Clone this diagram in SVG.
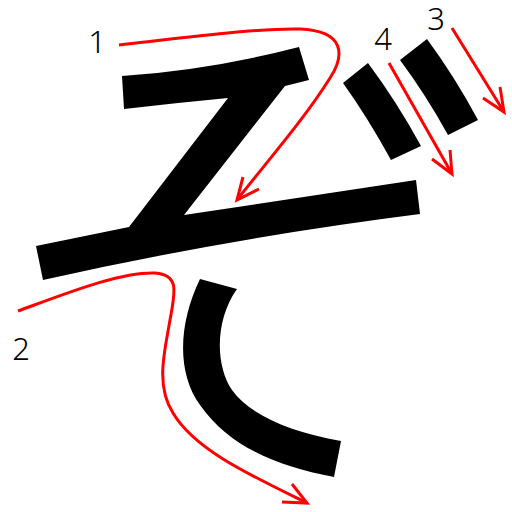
<svg xmlns="http://www.w3.org/2000/svg" width="512" height="512" viewBox="0 0 512 512">
<style>
.s{fill:#000}
.a{fill:none;stroke:#f00;stroke-width:3}
.n{font-family:"Noto Sans","DejaVu Sans",sans-serif;font-size:31px;font-weight:300;fill:#000;text-anchor:middle}
</style>
<rect width="512" height="512" fill="#fff"/>
<g id="strokes">
<path id="s1" class="s" d="M122,76 Q210,70 299,47 L309,80 L285,86 L184,215 L416,180 L420,214 Q230,238 43,280 L36,246 L129,227 L228,98 Q175,103 124,109 Z"/>
<path id="s2" class="s" d="M200,279 C180,320 175,370 200,405 C230,448 280,467 334,477 L341,441 C290,432 250,415 232,390 C215,365 215,320 237,289 Z"/>
<path id="s3" class="s" d="M400,60 L427,39 Q455,77 478,120 L448,135 Q426,95 400,60 Z"/>
<path id="s4" class="s" d="M343,83 L368,63 Q397,102 421,146 L391,160 Q368,118 343,83 Z"/>
</g>
<g id="connectors">
<path class="a" d="M119,45 C190,37 260,28 300,29 C345,31 345,55 330,78 C305,118 270,158 237,200"/>
<path class="a" d="M243,177 L237,200 L259,189"/>
<path class="a" d="M18,311 C70,292 120,272 155,273 C180,275 175,292 170,320 C165,350 155,385 173,413 C195,450 250,475 307,503"/>
<path class="a" d="M292,484 L307,503 L282,502"/>
<path class="a" d="M452,28 L504,112"/>
<path class="a" d="M500,87 L504,112 L483,98"/>
<path class="a" d="M389,63 L452,174"/>
<path class="a" d="M450,150 L452,174 L432,159"/>
</g>
<g id="labels">
<text class="n" x="97" y="53">1</text>
<text class="n" x="21" y="360">2</text>
<text class="n" x="436" y="30">3</text>
<text class="n" x="383" y="50">4</text>
</g>
</svg>
